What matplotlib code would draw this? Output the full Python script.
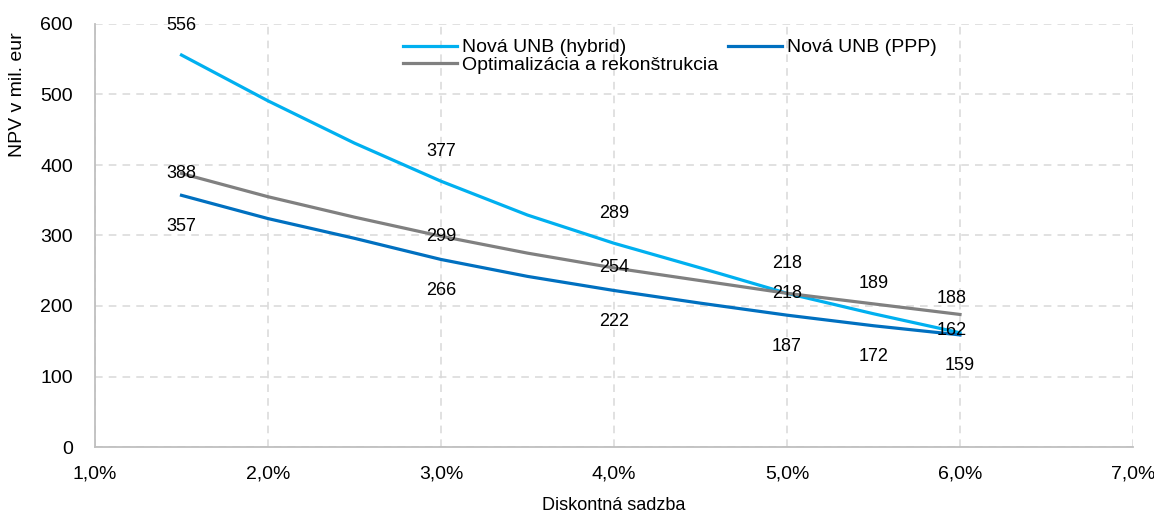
import matplotlib
matplotlib.use("Agg")
from matplotlib import pyplot as plt
from matplotlib import font_manager
from matplotlib.ticker import FuncFormatter, MultipleLocator

# data
rates = [1.5, 2.0, 2.5, 3.0, 3.5, 4.0, 4.5, 5.0, 5.5, 6.0]
hybrid = [556, 491, 431, 377, 329, 289, 254, 218, 189, 162]
ppp = [357, 324, 296, 266, 242, 222, 204, 187, 172, 159]
optim = [388, 355, 326, 299, 275, 254, 236, 218, 203, 188]

# which points carry a data label
hybridLabelled = [1.5, 3.0, 4.0, 5.0, 5.5, 6.0]
pppLabelled = [1.5, 3.0, 4.0, 5.0, 5.5, 6.0]
optimLabelled = [1.5, 3.0, 4.0, 5.0, 6.0]

names = ["Nová UNB (hybrid)", "Nová UNB (PPP)", "Optimalizácia a rekonštrukcia"]
colors = ["#00B0F0", "#0070C0", "#808080"]

installed = {f.name for f in font_manager.fontManager.ttflist}
family = "Liberation Sans Narrow" if "Liberation Sans Narrow" in installed else "Liberation Sans"
plt.rcParams["font.family"] = [family, "DejaVu Sans"]

W, H = 1154, 516
fig = plt.figure(figsize=(W / 100, H / 100), dpi=100)
ax = fig.add_axes([95 / W, (H - 447) / H, 1038 / W, 423 / H])

lnHybrid, = ax.plot(rates, hybrid, color=colors[0], lw=2.3, label=names[0])
lnPpp, = ax.plot(rates, ppp, color=colors[1], lw=2.3, label=names[1])
lnOptim, = ax.plot(rates, optim, color=colors[2], lw=2.3, label=names[2])


def addLabels(xs, ys, which, offset):
    for x, y in zip(xs, ys):
        if x not in which:
            continue
        dx, dy = offset(x)
        ax.annotate(str(y), (x, y), xytext=(dx, dy), textcoords="offset pixels",
                    ha="center", va="center", fontsize=13, color="black")


addLabels(rates, hybrid, hybridLabelled, lambda x: (-8, 2) if x == 6.0 else (0, 30))
addLabels(rates, ppp, pppLabelled, lambda x: (0, -31))
addLabels(rates, optim, optimLabelled, lambda x: (-8, 16) if x == 6.0 else (0, 0))

ax.set_xlim(1.0, 7.0)
ax.set_ylim(0, 600)
ax.xaxis.set_major_locator(MultipleLocator(1.0))
ax.yaxis.set_major_locator(MultipleLocator(100))
ax.xaxis.set_major_formatter(FuncFormatter(lambda v, p: f"{v:.1f}%".replace(".", ",")))

ax.grid(True, color="#D9D9D9", linestyle=(0, (5, 4)), linewidth=1.1)
ax.set_axisbelow(True)
for side in ["top", "right"]:
    ax.spines[side].set_visible(False)
for side in ["left", "bottom"]:
    ax.spines[side].set_color("#BFBFBF")
    ax.spines[side].set_linewidth(1.3)
ax.tick_params(length=0, labelsize=14)
ax.tick_params(axis="x", pad=13)
ax.tick_params(axis="y", pad=16)

ax.set_xlabel("Diskontná sadzba", fontsize=13)
ax.xaxis.label.set_va("center")
ax.xaxis.set_label_coords(0.5, (447 - 505) / 423)
ax.set_ylabel("NPV v mil. eur", fontsize=14)
ax.yaxis.label.set_va("center")
ax.yaxis.set_label_coords((18 - 95) / 1038, (447 - 95) / 423)

leg = fig.legend([lnHybrid, lnOptim, lnPpp], [names[0], names[2], names[1]],
                 ncol=2, loc="upper left", bbox_to_anchor=(393 / W, (H - 29) / H),
                 frameon=False, fontsize=14, handlelength=2.8, handletextpad=0.25,
                 columnspacing=0.5, labelspacing=0.0, borderpad=0.0)

fig.savefig("out.png", dpi=100)
